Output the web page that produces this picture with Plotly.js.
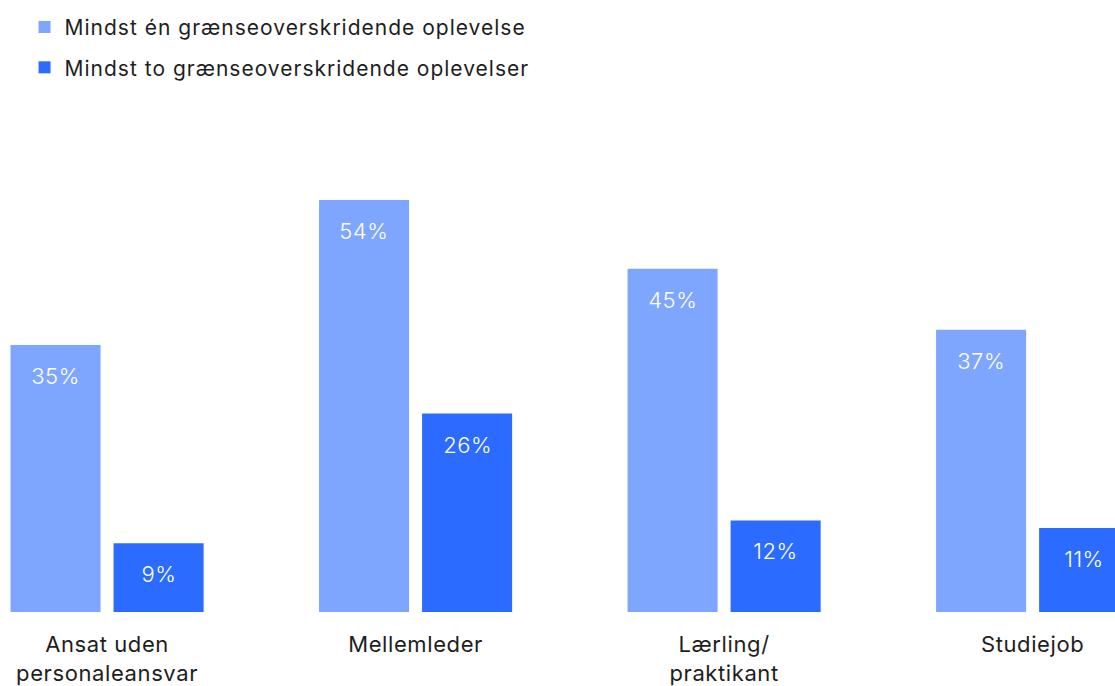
<!DOCTYPE html>
<html><head><meta charset="utf-8">
<script src="https://cdn.plot.ly/plotly-3.0.1.min.js"></script>
<style>
html,body{margin:0;padding:0;background:#fff}#chart{width:1115px;height:686px}
#chart .xtick text{letter-spacing:0.6px}
#chart .legendtext{letter-spacing:1px}
#chart .legend .scrollbox{clip-path:none !important}
#chart .legend{clip-path:none !important}
#chart .annotation-text{letter-spacing:0.5px}
</style>
</head><body><div id="chart"></div>
<script>
const categories = ["Ansat uden<br>personaleansvar", "Mellemleder", "Lærling/<br>praktikant", "Studiejob"];
const seriesNames = ["Mindst én grænseoverskridende oplevelse", "Mindst to grænseoverskridende oplevelser"];
const oneOrMore = [35, 54, 45, 37];
const twoOrMore = [9, 26, 12, 11];
const colors = ["#7FA6FF", "#2B6BFF"];

const FONT = "Inter, 'Noto Sans', sans-serif";
const bargap = 0.332, bargroupgap = 0.126;
const series = [oneOrMore, twoOrMore];

const traces = series.map((vals, i) => ({
  type: "bar",
  name: seriesNames[i],
  x: categories,
  y: vals,
  marker: {color: colors[i]},
  legendgroup: "g" + i,
  hoverinfo: "none"
}));

const annotations = [];
series.forEach((vals, i) => {
  const off = (i === 0 ? -1 : 1) * (1 - bargap) / 4;
  vals.forEach((v, j) => {
    annotations.push({
      x: j + off, y: v, xref: "x", yref: "y",
      text: v + "%", showarrow: false,
      yshift: -31, yanchor: "middle", xanchor: "center",
      font: {family: FONT, size: 22, color: "#ffffff", weight: 300}
    });
  });
});

const layout = {
  width: 1115, height: 686,
  margin: {l: 0, r: 0, t: 100, b: 74},
  paper_bgcolor: "#fff", plot_bgcolor: "#fff",
  barmode: "group", bargap: bargap, bargroupgap: bargroupgap,
  font: {family: FONT, size: 22, color: "#1e1e1e"},
  xaxis: {type: "category", range: [-0.347, 3.267], showgrid: false, zeroline: false,
          showline: false, ticks: "", ticklabelstandoff: 17,
          tickfont: {family: FONT, size: 22, color: "#1e1e1e"}},
  yaxis: {range: [0, 67.1], visible: false, showgrid: false, zeroline: false},
  showlegend: true,
  legend: {orientation: "v", x: 0.022, xanchor: "left", y: 0.99, yanchor: "top", yref: "container",
           tracegroupgap: 10, font: {family: FONT, size: 21, color: "#1e1e1e"},
           itemwidth: 30, bgcolor: "rgba(0,0,0,0)"},
  annotations: annotations
};

Plotly.newPlot("chart", traces, layout, {staticPlot: true, displayModeBar: false});
</script></body></html>
